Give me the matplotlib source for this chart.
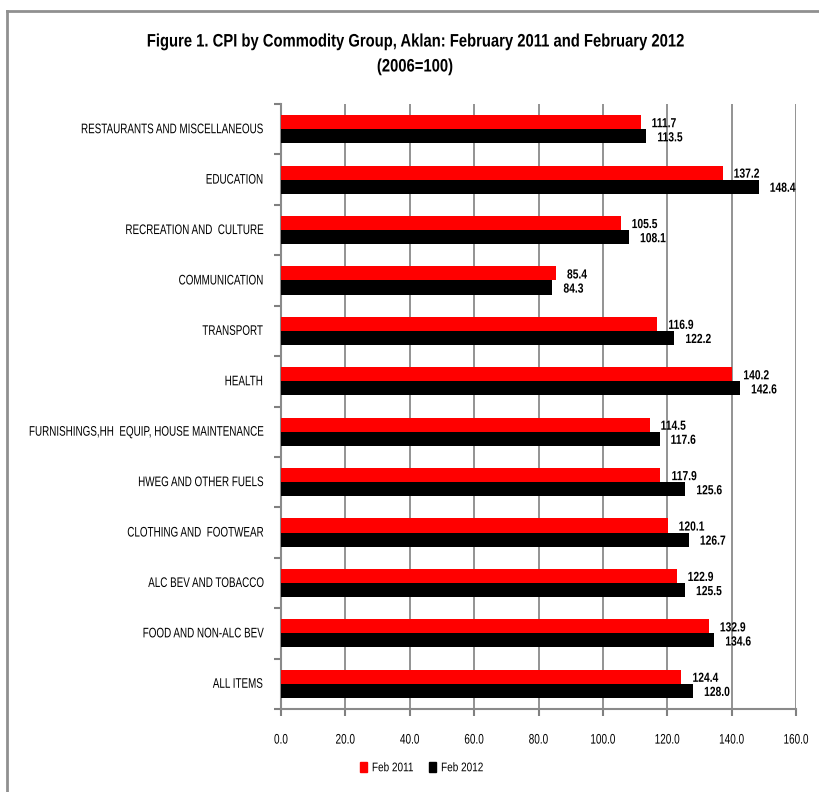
import matplotlib
matplotlib.use("Agg")
import matplotlib.pyplot as plt
import numpy as np
from matplotlib.patches import Patch
from matplotlib.lines import Line2D
from matplotlib.patheffects import AbstractPathEffect
from matplotlib.transforms import Affine2D

plt.rcParams['font.family'] = ['Liberation Sans', 'DejaVu Sans']

categories = [
    "RESTAURANTS AND MISCELLANEOUS",
    "EDUCATION",
    "RECREATION AND  CULTURE",
    "COMMUNICATION",
    "TRANSPORT",
    "HEALTH",
    "FURNISHINGS,HH  EQUIP, HOUSE MAINTENANCE",
    "HWEG AND OTHER FUELS",
    "CLOTHING AND  FOOTWEAR",
    "ALC BEV AND TOBACCO",
    "FOOD AND NON-ALC BEV",
    "ALL ITEMS",
]
feb2011 = [111.7, 137.2, 105.5, 85.4, 116.9, 140.2, 114.5, 117.9, 120.1, 122.9, 132.9, 124.4]
feb2012 = [113.5, 148.4, 108.1, 84.3, 122.2, 142.6, 117.6, 125.6, 126.7, 125.5, 134.6, 128.0]
xticks = [0, 20, 40, 60, 80, 100, 120, 140, 160]


class Condense(AbstractPathEffect):
    """Rescale text glyphs (narrow font look)."""
    def __init__(self, sx=0.8, align=0.0, sy=1.0):
        super().__init__()
        self.sx = sx
        self.sy = sy
        self.align = align

    def draw_path(self, renderer, gc, tpath, affine, rgbFace=None):
        ext = tpath.get_extents()
        w = ext.x1 if np.isfinite(ext.x1) else 0
        shift = (1 - self.sx) * w * self.align
        t = Affine2D().scale(self.sx, self.sy).translate(shift, 0) + affine
        renderer.draw_path(gc, tpath, t, rgbFace)


def condense(text, sx, align, sy=1.0):
    text.set_path_effects([Condense(sx, align, sy)])
    return text


fig = plt.figure(figsize=(8.2, 7.92), dpi=100)
ax = fig.add_axes([281/820, 1-709/792, (796-281)/820, (709-104)/792])

n = len(categories)
y = np.arange(n)
h = 0.28
ax.barh(y - h/2, feb2011, height=h, color='#ff0000', zorder=3)
ax.barh(y + h/2, feb2012, height=h, color='#000000', zorder=3)

for yi, v in zip(y - h/2, feb2011):
    t = ax.annotate(f"{v:.1f}", (v, yi), xytext=(8, -1.5), textcoords='offset points',
                    ha='left', va='center', fontsize=9.5, fontweight='bold')
    condense(t, 0.78, 0)
for yi, v in zip(y + h/2, feb2012):
    t = ax.annotate(f"{v:.1f}", (v, yi), xytext=(8, -1.5), textcoords='offset points',
                    ha='left', va='center', fontsize=9.5, fontweight='bold')
    condense(t, 0.78, 0)

ax.set_ylim(n - 0.5, -0.5)
ax.set_xlim(0, 160)
ax.set_yticks(y)
ylab_fs = 7.6
ax.set_yticklabels(categories, fontsize=ylab_fs)
for lab in ax.get_yticklabels():
    condense(lab, 0.71 * 10 / ylab_fs, 1.0, sy=10 / ylab_fs)
ax.set_yticks(np.arange(-0.5, n, 1), minor=True)
ax.tick_params(axis='y', which='major', length=0, pad=13)
ax.tick_params(axis='y', which='minor', length=5, width=1.5, color='#808080', direction='out')
ax.set_xticks(xticks)
ax.set_xticklabels([f"{t:.1f}" for t in xticks], fontsize=10)
for lab in ax.get_xticklabels():
    condense(lab, 0.72, 0.5)
ax.tick_params(axis='x', length=5, width=1.5, color='#808080', pad=12)

ax.grid(axis='x', color='#8a8a8a', linewidth=1.3, zorder=0)
ax.set_axisbelow(True)
for s in ['top', 'right']:
    ax.spines[s].set_visible(False)
for s in ['left', 'bottom']:
    ax.spines[s].set_color('#8a8a8a')
    ax.spines[s].set_linewidth(1.5)

t1 = fig.text(415/820, 1-42/792, "Figure 1. CPI by Commodity Group, Aklan: February 2011 and February 2012",
              ha='center', va='center', fontsize=13, fontweight='bold')
condense(t1, 0.82, 0.5)
t2 = fig.text(415/820, 1-67/792, "(2006=100)", ha='center', va='center', fontsize=13,
              fontweight='bold')
condense(t2, 0.82, 0.5)

handles = [Patch(color='#ff0000', label='Feb 2011'), Patch(color='#000000', label='Feb 2012')]
leg = fig.legend(handles=handles, loc='center', bbox_to_anchor=(427/820, 1-768/792), ncol=2,
                 frameon=False, fontsize=9, handlelength=0.56, handleheight=0.9,
                 handletextpad=0.4, columnspacing=0.4)
for t in leg.get_texts():
    condense(t, 0.8, 0)

# outer frame
fig.add_artist(Line2D([7/820, 7/820], [0, 1-11/792], transform=fig.transFigure,
                      color='#909090', linewidth=2))
fig.add_artist(Line2D([7/820, 1], [1-11/792, 1-11/792], transform=fig.transFigure,
                      color='#909090', linewidth=2))

fig.savefig("out.png", dpi=100)
